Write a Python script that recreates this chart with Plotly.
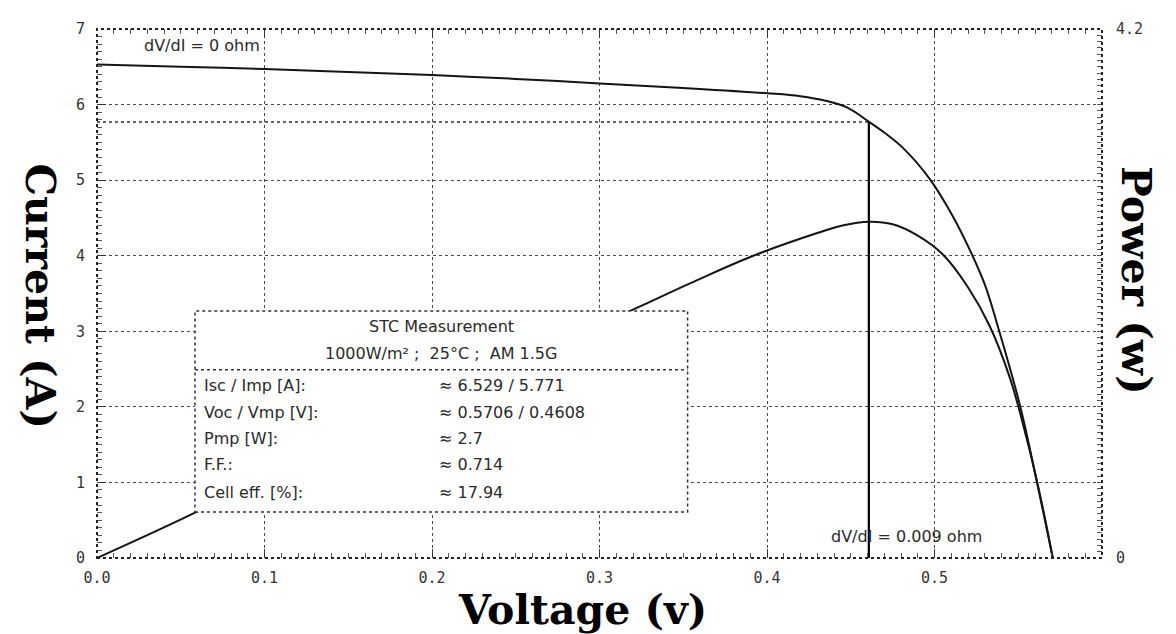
import plotly.graph_objects as go

# ---- data ----
voltage_iv = [0.0, 0.05, 0.1, 0.15, 0.2, 0.25, 0.3, 0.35, 0.4, 0.42, 0.435, 0.448,
              0.461, 0.47, 0.481, 0.497, 0.511, 0.521, 0.53, 0.538, 0.551, 0.561, 0.5706]
current_a = [6.53, 6.50, 6.47, 6.43, 6.39, 6.34, 6.28, 6.22, 6.15, 6.11, 6.05, 5.96,
             5.77, 5.63, 5.43, 5.02, 4.52, 4.08, 3.62, 3.05, 2.02, 1.02, 0.0]

voltage_pv = [0.0, 0.057, 0.1, 0.15, 0.2, 0.25, 0.318, 0.354, 0.39, 0.43, 0.445,
              0.461, 0.475, 0.49, 0.505, 0.52, 0.533, 0.545, 0.555, 0.563, 0.5706]
power_w = [0.0, 0.35, 0.64, 0.96, 1.27, 1.57, 1.96, 2.18, 2.39, 2.58, 2.64,
           2.67, 2.65, 2.56, 2.41, 2.15, 1.84, 1.43, 0.95, 0.50, 0.0]

vmp = 0.4608
imp = 5.771

x_tickvals = [0.0, 0.1, 0.2, 0.3, 0.4, 0.5]
x_ticktext = ["0.0", "0.1", "0.2", "0.3", "0.4", "0.5"]
y_tickvals = [0, 1, 2, 3, 4, 5, 6, 7]
y2_tickvals = [0, 4.2]
y2_ticktext = ["0", "4.2"]

box_labels = ["Isc / Imp [A]:", "Voc / Vmp [V]:", "Pmp [W]:", "F.F.:", "Cell eff. [%]:"]
box_values = ["\u2248 6.529 / 5.771", "\u2248 0.5706 / 0.4608", "\u2248 2.7", "\u2248 0.714", "\u2248 17.94"]
box_title = "STC Measurement"
box_subtitle = "1000W/m\u00b2 ;  25\u00b0C ;  AM 1.5G"

INK = "#141414"
GRID = "#4a4a4a"
TICKFONT = dict(family="DejaVu Sans Mono", size=15, color="#333")

# minor tick positions (axis decoration only)
x_minor = [i / 100 for i in range(0, 61)]
y_minor = [i / 10 for i in range(0, 71)]
y2_minor = [i / 20 for i in range(0, 85)]

fig = go.Figure()

fig.add_trace(go.Scatter(x=voltage_iv, y=current_a, mode="lines",
                         line=dict(color=INK, width=2, shape="spline", smoothing=1.1),
                         showlegend=False, hoverinfo="skip"))
fig.add_trace(go.Scatter(x=voltage_pv, y=power_w, mode="lines", yaxis="y2",
                         line=dict(color=INK, width=2, shape="spline", smoothing=1.1),
                         showlegend=False, hoverinfo="skip"))
# invisible trace to activate the top tick axis
fig.add_trace(go.Scatter(x=[0, 0.6], y=[0, 0], mode="lines", xaxis="x2",
                         line=dict(width=0), showlegend=False, hoverinfo="skip"))
# maximum power point guide lines
fig.add_trace(go.Scatter(x=[vmp, vmp], y=[0, imp], mode="lines",
                         line=dict(color="#000", width=2.2), showlegend=False, hoverinfo="skip"))
fig.add_trace(go.Scatter(x=[0, vmp], y=[imp, imp], mode="lines",
                         line=dict(color="#333", width=1.5, dash="dot"), showlegend=False, hoverinfo="skip"))

# measurement box (white, above the curves)
bx0, bx1, by0, by1 = 0.0585, 0.3526, 0.61, 3.27
fig.add_shape(type="rect", x0=bx0, x1=bx1, y0=by0, y1=by1, xref="x", yref="y",
              fillcolor="white", line=dict(color="#333", width=1.5, dash="dot"), layer="above")
fig.add_shape(type="line", x0=bx0, x1=bx1, y0=2.49, y1=2.49, xref="x", yref="y",
              line=dict(color="#333", width=1.5, dash="dot"), layer="above")

# plot frame
fig.add_shape(type="rect", x0=0, x1=1, y0=0, y1=1, xref="paper", yref="paper",
              line=dict(color="#222", width=2, dash="dot"), layer="above")

BOXFONT = dict(family="DejaVu Sans", size=16, color="#2a2a2a")
fig.add_annotation(x=(bx0 + bx1) / 2, y=3.07, text=box_title, showarrow=False,
                   font=BOXFONT, xanchor="center", yanchor="middle")
fig.add_annotation(x=(bx0 + bx1) / 2, y=2.71, text=box_subtitle, showarrow=False,
                   font=BOXFONT, xanchor="center", yanchor="middle")
row_y = [2.28, 1.93, 1.58, 1.24, 0.87]
for lab, val, yy in zip(box_labels, box_values, row_y):
    fig.add_annotation(x=0.0625, y=yy, text=lab, showarrow=False, font=BOXFONT,
                       xanchor="left", yanchor="middle")
    fig.add_annotation(x=0.203, y=yy, text=val, showarrow=False, font=BOXFONT,
                       xanchor="left", yanchor="middle")

fig.add_annotation(x=0.027, y=6.78, text="dV/dI = 0 ohm", showarrow=False, font=BOXFONT,
                   xanchor="left", yanchor="middle")
fig.add_annotation(x=0.437, y=0.28, text="dV/dI = 0.009 ohm", showarrow=False, font=BOXFONT,
                   xanchor="left", yanchor="middle")

TITLEFONT = dict(family="DejaVu Serif", size=41, color="#000", weight="bold")
fig.add_annotation(x=-0.057, y=0.495, xref="paper", yref="paper", text="Current (A)",
                   textangle=90, showarrow=False, font=TITLEFONT, xanchor="center", yanchor="middle")
fig.add_annotation(x=1.034, y=0.525, xref="paper", yref="paper", text="Power (w)",
                   textangle=90, showarrow=False, font=TITLEFONT, xanchor="center", yanchor="middle")
fig.add_annotation(x=0.483, y=-0.098, xref="paper", yref="paper", text="Voltage (v)",
                   showarrow=False, font=TITLEFONT, xanchor="center", yanchor="middle")

# page body adds an 8px margin: shrink the figure so the plot lands where the reference has it
fig.update_layout(
    width=1168, height=626,
    margin=dict(l=89, r=74, t=13, b=76),
    plot_bgcolor="white", paper_bgcolor="white",
    xaxis=dict(range=[0, 0.6], tickvals=x_tickvals, ticktext=x_ticktext,
               showgrid=True, gridcolor=GRID, griddash="dot", gridwidth=1.3,
               zeroline=False, showline=False, ticks="inside", ticklen=9, tickcolor="#333",
               tickfont=TICKFONT, ticklabelstandoff=9,
               minor=dict(tickmode="array", tickvals=x_minor, ticks="inside", ticklen=5,
                          tickcolor="#555", showgrid=False)),
    xaxis2=dict(range=[0, 0.6], overlaying="x", side="top", tickvals=x_tickvals,
                showticklabels=False, showgrid=False, zeroline=False, showline=False,
                ticks="inside", ticklen=9, tickcolor="#333",
                minor=dict(tickmode="array", tickvals=x_minor, ticks="inside", ticklen=5,
                           tickcolor="#555", showgrid=False)),
    yaxis=dict(range=[0, 7], tickvals=y_tickvals,
               showgrid=True, gridcolor=GRID, griddash="dot", gridwidth=1.3,
               zeroline=False, showline=False, ticks="inside", ticklen=9, tickcolor="#333",
               tickfont=TICKFONT, ticklabelstandoff=11,
               minor=dict(tickmode="array", tickvals=y_minor, ticks="inside", ticklen=5,
                          tickcolor="#555", showgrid=False)),
    yaxis2=dict(range=[0, 4.2], overlaying="y", side="right", tickvals=y2_tickvals,
                ticktext=y2_ticktext, showgrid=False, zeroline=False, showline=False,
                ticks="inside", ticklen=9, tickcolor="#333", tickfont=TICKFONT,
                ticklabelstandoff=13,
                minor=dict(tickmode="array", tickvals=y2_minor, ticks="inside", ticklen=5,
                           tickcolor="#555", showgrid=False)),
)

fig.write_html("out.html")
